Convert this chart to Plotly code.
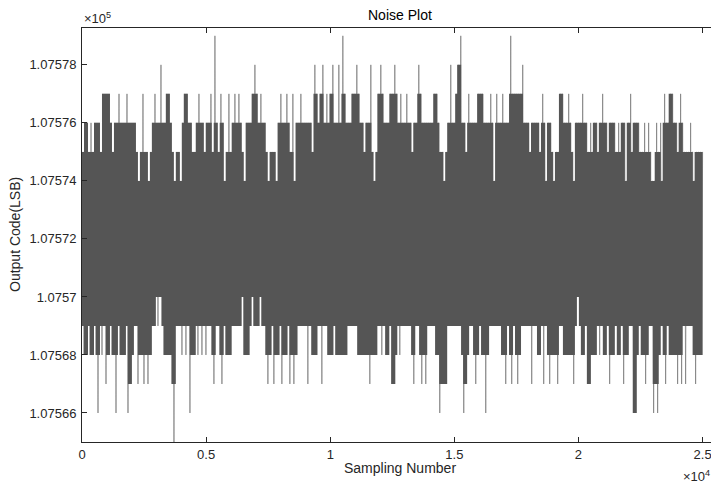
import numpy as np
import plotly.graph_objects as go

# ---- data (per 2-px column envelope of the noise record) ----
code_center = 107570          # output code the band is centred on (LSB)
sample_first = 1
sample_last = 25000

# per column: maximum code = code_center + high_offset, minimum = code_center - low_offset
high_offset = [
    5, 6, 6, 5, 6, 5, 6, 6, 6, 5, 7, 7,
    7, 7, 6, 5, 6, 6, 7, 6, 6, 6, 7, 6, 6, 6, 6, 5, 4, 5, 7, 5, 5, 4, 5, 6, 7, 6, 6, 8, 6, 6,
    7, 7, 6, 5, 4, 5, 5, 4, 6, 7, 7, 6, 6, 5, 5, 6, 7, 6, 6, 5,
    6, 6, 7, 5, 9, 6, 5, 7, 6, 4, 5, 7, 5, 6, 7, 6, 7, 6, 5, 4, 6, 6, 6, 7, 8, 7, 6, 7, 6, 6,
    5, 4, 5, 5, 5, 4, 6, 7, 6, 6, 7, 6, 5, 7, 4, 6, 6, 7, 6, 6,
    6, 6, 6, 5, 8, 7, 6, 7, 8, 6, 7, 6, 7, 8, 6, 6, 8, 6, 9, 7, 6, 6, 6, 7, 7, 8, 7, 6, 6, 5,
    6, 6, 8, 5, 4, 5, 7, 8, 7, 6, 6, 6, 7, 7, 8, 7, 6, 7, 6, 6,
    7, 6, 6, 5, 6, 6, 8, 7, 6, 6, 6, 6, 6, 6, 7, 7, 6, 5, 5, 4, 5, 6, 8, 6, 6, 7, 8, 9, 6, 6,
    5, 7, 6, 6, 6, 6, 7, 7, 7, 6, 6, 6, 7, 6, 4, 7, 6, 6, 7, 6,
    6, 6, 9, 7, 7, 7, 7, 7, 8, 6, 6, 6, 5, 6, 6, 6, 6, 5, 7, 6, 4, 6, 6, 5, 4, 5, 5, 7, 7, 6,
    6, 7, 6, 5, 4, 6, 6, 6, 7, 6, 6, 5, 6, 5, 6, 6, 5, 6, 7, 6,
    6, 5, 6, 6, 6, 5, 6, 5, 6, 6, 4, 6, 7, 5, 6, 6, 6, 5, 5, 6, 5, 6, 5, 4, 4, 6, 5, 6, 4, 7,
    6, 6, 7, 7, 6, 6, 5, 7, 6, 5, 5, 5, 6, 5, 4, 5, 5, 5, 5,
]
low_offset = [
    1, 2, 2, 1, 2, 2, 1, 2, 4, 1, 2, 1,
    3, 2, 1, 2, 2, 4, 1, 2, 2, 2, 1, 4, 3, 2, 1, 1, 3, 2, 2, 3, 2, 3, 2, 1, 1, 0, 1, 0, 1, 2,
    2, 2, 2, 3, 5, 1, 1, 1, 2, 1, 2, 1, 4, 2, 2, 1, 2, 1, 2, 1,
    2, 1, 1, 2, 3, 1, 1, 2, 3, 1, 2, 2, 2, 1, 1, 1, 1, 1, 0, 2, 2, 2, 1, 0, 1, 1, 1, 0, 1, 1,
    2, 3, 2, 1, 3, 2, 2, 1, 3, 2, 2, 1, 3, 2, 3, 2, 1, 1, 1, 1,
    1, 3, 1, 2, 2, 2, 1, 1, 3, 1, 1, 2, 2, 2, 1, 2, 2, 2, 2, 2, 2, 1, 1, 1, 1, 1, 2, 2, 2, 2,
    2, 2, 3, 2, 2, 2, 1, 1, 2, 1, 2, 2, 1, 3, 3, 2, 1, 2, 1, 1,
    1, 1, 1, 2, 3, 1, 1, 2, 3, 2, 3, 1, 1, 1, 1, 2, 2, 4, 3, 3, 3, 1, 1, 1, 1, 1, 1, 1, 2, 4,
    3, 2, 1, 1, 2, 3, 2, 1, 2, 2, 4, 2, 1, 1, 1, 1, 1, 1, 2, 2,
    3, 1, 2, 3, 1, 2, 3, 2, 1, 1, 1, 1, 1, 3, 1, 1, 2, 2, 1, 3, 1, 2, 3, 2, 2, 2, 3, 1, 1, 2,
    2, 2, 2, 2, 3, 1, 0, 1, 2, 2, 1, 3, 3, 2, 2, 2, 1, 2, 1, 2,
    2, 1, 3, 2, 2, 1, 2, 2, 1, 3, 2, 2, 1, 1, 4, 4, 2, 1, 2, 2, 3, 2, 1, 1, 4, 3, 4, 2, 1, 2,
    3, 1, 2, 2, 2, 2, 3, 2, 3, 1, 3, 1, 1, 1, 2, 3, 2, 2, 2,
]

x_tick_values = [0, 5000, 10000, 15000, 20000, 25000]
x_tick_labels = ["0", "0.5", "1", "1.5", "2", "2.5"]
y_tick_values = [107566, 107568, 107570, 107572, 107574, 107576, 107578]
y_tick_labels = ["1.07566", "1.07568", "1.0757", "1.07572", "1.07574", "1.07576", "1.07578"]

# ---- build the traces ----
n = min(len(high_offset), len(low_offset))
hi = code_center + np.array(high_offset[:n])
lo = code_center - np.array(low_offset[:n])

# zig-zag through each column's minimum and maximum (the raw trace look)
codes = np.empty(2 * n)
codes[0::2] = lo
codes[1::2] = hi
samples = np.linspace(sample_first, sample_last, 2 * n)

# densely covered core: a column level is solid when a neighbour reaches it too
hi_pad = np.concatenate([[hi[0]], hi, [hi[-1]]])
lo_pad = np.concatenate([[lo[0]], lo, [lo[-1]]])
core_hi = np.minimum(hi, np.maximum(hi_pad[:-2], hi_pad[2:]))
core_lo = np.maximum(lo, np.minimum(lo_pad[:-2], lo_pad[2:]))
edges = np.linspace(sample_first, sample_last, n + 1)
poly_x = np.concatenate([np.repeat(edges, 2)[1:-1], np.repeat(edges, 2)[1:-1][::-1]])
poly_y = np.concatenate([np.repeat(core_hi, 2), np.repeat(core_lo, 2)[::-1]])

FONT = "Liberation Sans, Arial, Helvetica, sans-serif"
TXT = "rgb(38,38,38)"
LINE = "#555555"

fig = go.Figure()
# thin raw trace first, the solid dense core drawn over it
fig.add_trace(go.Scatter(
    x=samples, y=codes, mode="lines",
    line=dict(color="#777777", width=0.7),
    hoverinfo="skip", showlegend=False,
))
fig.add_trace(go.Scatter(
    x=poly_x, y=poly_y, mode="lines", fill="toself", fillcolor=LINE,
    line=dict(color=LINE, width=0), hoverinfo="skip", showlegend=False,
))

axis_common = dict(
    showgrid=False, zeroline=False, showline=True, linecolor=TXT, linewidth=1,
    mirror="ticks", ticks="inside", ticklen=5, tickcolor=TXT,
    tickfont=dict(family=FONT, size=13, color=TXT),
)

# the page body adds an 8 px offset, so the figure is 8 px smaller than the window
fig.update_layout(
    width=711, height=480,
    margin=dict(l=74, r=2, t=20, b=46),
    paper_bgcolor="white", plot_bgcolor="white",
    font=dict(family=FONT, color=TXT),
    xaxis=dict(range=[0, 25580], tickvals=x_tick_values, ticktext=x_tick_labels, **axis_common),
    yaxis=dict(range=[107565, 107579.27], tickvals=y_tick_values, ticktext=y_tick_labels,
               ticklabelstandoff=2, **axis_common),
    annotations=[
        dict(text="Noise Plot", xref="paper", yref="paper", x=0.5, y=1, yshift=3,
             xanchor="center", yanchor="bottom", showarrow=False,
             font=dict(family=FONT, size=14, color="black")),
        dict(text="Sampling Number", xref="paper", yref="paper", x=0.5, y=-0.062,
             xanchor="center", yanchor="middle", showarrow=False,
             font=dict(family=FONT, size=14, color=TXT)),
        dict(text="Output Code(LSB)", xref="paper", yref="paper", x=(15 - 82) / 635, y=0.5,
             xanchor="center", yanchor="middle", textangle=-90, showarrow=False,
             font=dict(family=FONT, size=14, color=TXT)),
        dict(text="×10<sup>5</sup>", xref="paper", yref="paper", x=0, y=1,
             xanchor="left", yanchor="bottom", showarrow=False,
             font=dict(family=FONT, size=13, color=TXT)),
        dict(text="×10<sup>4</sup>", xref="paper", yref="paper", x=1, xshift=-5,
             y=-(478 - 434) / 414, xanchor="right", yanchor="bottom", showarrow=False,
             font=dict(family=FONT, size=13, color=TXT)),
    ],
)

fig.write_html("out.html")
